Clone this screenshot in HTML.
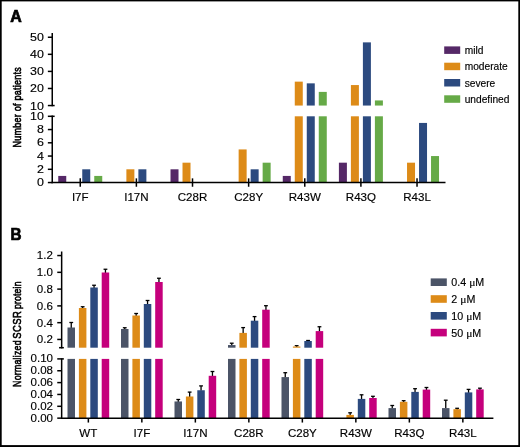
<!DOCTYPE html>
<html><head><meta charset="utf-8"><title>Figure</title>
<style>
html,body{margin:0;padding:0;background:#fff;}
body{width:520px;height:447px;overflow:hidden;}
svg{display:block;will-change:transform;font-family:"Liberation Sans",sans-serif;}
text{fill:#000;stroke:#000;stroke-width:0.15px;}
</style></head><body>
<svg width="520" height="447" viewBox="0 0 520 447">
<rect x="0" y="0" width="520" height="447" fill="#fff"/>
<rect x="58.25" y="175.93" width="8.00" height="6.62" fill="#552867"/>
<rect x="82.25" y="169.30" width="8.00" height="13.25" fill="#2C4A7F"/>
<rect x="94.25" y="175.93" width="8.00" height="6.62" fill="#66AA47"/>
<rect x="126.38" y="169.30" width="8.00" height="13.25" fill="#DD8B18"/>
<rect x="138.38" y="169.30" width="8.00" height="13.25" fill="#2C4A7F"/>
<rect x="170.51" y="169.30" width="8.00" height="13.25" fill="#552867"/>
<rect x="182.51" y="162.68" width="8.00" height="19.88" fill="#DD8B18"/>
<rect x="238.64" y="149.43" width="8.00" height="33.12" fill="#DD8B18"/>
<rect x="250.64" y="169.30" width="8.00" height="13.25" fill="#2C4A7F"/>
<rect x="262.64" y="162.68" width="8.00" height="19.88" fill="#66AA47"/>
<rect x="282.77" y="175.93" width="8.00" height="6.62" fill="#552867"/>
<rect x="294.77" y="116.30" width="8.00" height="66.25" fill="#DD8B18"/>
<rect x="294.77" y="81.64" width="8.00" height="23.91" fill="#DD8B18"/>
<rect x="306.77" y="116.30" width="8.00" height="66.25" fill="#2C4A7F"/>
<rect x="306.77" y="83.35" width="8.00" height="22.20" fill="#2C4A7F"/>
<rect x="318.77" y="116.30" width="8.00" height="66.25" fill="#66AA47"/>
<rect x="318.77" y="91.89" width="8.00" height="13.66" fill="#66AA47"/>
<rect x="338.90" y="162.68" width="8.00" height="19.88" fill="#552867"/>
<rect x="350.90" y="116.30" width="8.00" height="66.25" fill="#DD8B18"/>
<rect x="350.90" y="85.06" width="8.00" height="20.49" fill="#DD8B18"/>
<rect x="362.90" y="116.30" width="8.00" height="66.25" fill="#2C4A7F"/>
<rect x="362.90" y="42.37" width="8.00" height="63.18" fill="#2C4A7F"/>
<rect x="374.90" y="116.30" width="8.00" height="66.25" fill="#66AA47"/>
<rect x="374.90" y="100.43" width="8.00" height="5.12" fill="#66AA47"/>
<rect x="407.03" y="162.68" width="8.00" height="19.88" fill="#DD8B18"/>
<rect x="419.03" y="122.93" width="8.00" height="59.62" fill="#2C4A7F"/>
<rect x="431.03" y="156.05" width="8.00" height="26.50" fill="#66AA47"/>
<line x1="51.55" y1="182.55" x2="445.50" y2="182.55" stroke="#000" stroke-width="1.5"/>
<line x1="52.25" y1="115.60" x2="52.25" y2="183.25" stroke="#000" stroke-width="1.5"/>
<line x1="52.25" y1="33.00" x2="52.25" y2="106.25" stroke="#000" stroke-width="1.5"/>
<line x1="47.85" y1="182.55" x2="52.25" y2="182.55" stroke="#000" stroke-width="1.5"/>
<line x1="47.85" y1="169.30" x2="52.25" y2="169.30" stroke="#000" stroke-width="1.5"/>
<line x1="47.85" y1="156.05" x2="52.25" y2="156.05" stroke="#000" stroke-width="1.5"/>
<line x1="47.85" y1="142.80" x2="52.25" y2="142.80" stroke="#000" stroke-width="1.5"/>
<line x1="47.85" y1="129.55" x2="52.25" y2="129.55" stroke="#000" stroke-width="1.5"/>
<line x1="47.85" y1="116.30" x2="52.25" y2="116.30" stroke="#000" stroke-width="1.5"/>
<line x1="47.85" y1="105.55" x2="52.25" y2="105.55" stroke="#000" stroke-width="1.5"/>
<line x1="47.85" y1="88.47" x2="52.25" y2="88.47" stroke="#000" stroke-width="1.5"/>
<line x1="47.85" y1="71.40" x2="52.25" y2="71.40" stroke="#000" stroke-width="1.5"/>
<line x1="47.85" y1="54.32" x2="52.25" y2="54.32" stroke="#000" stroke-width="1.5"/>
<line x1="47.85" y1="37.25" x2="52.25" y2="37.25" stroke="#000" stroke-width="1.5"/>
<line x1="52.25" y1="116.30" x2="54.65" y2="116.30" stroke="#000" stroke-width="1.5"/>
<line x1="52.25" y1="105.55" x2="54.65" y2="105.55" stroke="#000" stroke-width="1.5"/>
<line x1="80.25" y1="178.35" x2="80.25" y2="186.75" stroke="#000" stroke-width="1.5"/>
<line x1="136.38" y1="178.35" x2="136.38" y2="186.75" stroke="#000" stroke-width="1.5"/>
<line x1="192.51" y1="178.35" x2="192.51" y2="186.75" stroke="#000" stroke-width="1.5"/>
<line x1="248.64" y1="178.35" x2="248.64" y2="186.75" stroke="#000" stroke-width="1.5"/>
<line x1="304.77" y1="178.35" x2="304.77" y2="186.75" stroke="#000" stroke-width="1.5"/>
<line x1="360.90" y1="178.35" x2="360.90" y2="186.75" stroke="#000" stroke-width="1.5"/>
<line x1="417.03" y1="178.35" x2="417.03" y2="186.75" stroke="#000" stroke-width="1.5"/>
<text transform="translate(43.90,186.15) scale(1.12,1)" font-size="11.1" text-anchor="end" >0</text>
<text transform="translate(43.90,172.90) scale(1.12,1)" font-size="11.1" text-anchor="end" >2</text>
<text transform="translate(43.90,159.65) scale(1.12,1)" font-size="11.1" text-anchor="end" >4</text>
<text transform="translate(43.90,146.40) scale(1.12,1)" font-size="11.1" text-anchor="end" >6</text>
<text transform="translate(43.90,133.15) scale(1.12,1)" font-size="11.1" text-anchor="end" >8</text>
<text transform="translate(43.90,119.90) scale(1.12,1)" font-size="11.1" text-anchor="end" >10</text>
<text transform="translate(43.90,109.50) scale(1.12,1)" font-size="11.1" text-anchor="end" >10</text>
<text transform="translate(43.90,92.42) scale(1.12,1)" font-size="11.1" text-anchor="end" >20</text>
<text transform="translate(43.90,75.35) scale(1.12,1)" font-size="11.1" text-anchor="end" >30</text>
<text transform="translate(43.90,58.27) scale(1.12,1)" font-size="11.1" text-anchor="end" >40</text>
<text transform="translate(43.90,41.20) scale(1.12,1)" font-size="11.1" text-anchor="end" >50</text>
<text transform="translate(80.25,201.20) scale(1.07,1)" font-size="10.8" text-anchor="middle" >I7F</text>
<text transform="translate(136.38,201.20) scale(1.07,1)" font-size="10.8" text-anchor="middle" >I17N</text>
<text transform="translate(192.51,201.20) scale(1.07,1)" font-size="10.8" text-anchor="middle" >C28R</text>
<text transform="translate(248.64,201.20) scale(1.07,1)" font-size="10.8" text-anchor="middle" >C28Y</text>
<text transform="translate(304.77,201.20) scale(1.07,1)" font-size="10.8" text-anchor="middle" >R43W</text>
<text transform="translate(360.90,201.20) scale(1.07,1)" font-size="10.8" text-anchor="middle" >R43Q</text>
<text transform="translate(417.03,201.20) scale(1.07,1)" font-size="10.8" text-anchor="middle" >R43L</text>
<rect x="444.20" y="46.40" width="16.00" height="7.50" fill="#552867"/>
<text transform="translate(464.70,54.00) scale(1.0,1)" font-size="10.2" text-anchor="start" >mild</text>
<rect x="444.20" y="62.70" width="16.00" height="7.50" fill="#DD8B18"/>
<text transform="translate(464.70,70.30) scale(1.0,1)" font-size="10.2" text-anchor="start" >moderate</text>
<rect x="444.20" y="79.00" width="16.00" height="7.50" fill="#2C4A7F"/>
<text transform="translate(464.70,86.60) scale(1.0,1)" font-size="10.2" text-anchor="start" >severe</text>
<rect x="444.20" y="95.30" width="16.00" height="7.50" fill="#66AA47"/>
<text transform="translate(464.70,102.90) scale(1.0,1)" font-size="10.2" text-anchor="start" >undefined</text>
<line x1="71.25" y1="322.50" x2="71.25" y2="328.00" stroke="#000" stroke-width="1.3"/>
<line x1="69.35" y1="322.50" x2="73.15" y2="322.50" stroke="#000" stroke-width="1.3"/>
<rect x="67.50" y="358.90" width="7.50" height="59.25" fill="#4B5467"/>
<rect x="67.50" y="327.50" width="7.50" height="20.20" fill="#4B5467"/>
<line x1="82.65" y1="306.75" x2="82.65" y2="308.50" stroke="#000" stroke-width="1.3"/>
<line x1="80.75" y1="306.75" x2="84.55" y2="306.75" stroke="#000" stroke-width="1.3"/>
<rect x="78.90" y="358.90" width="7.50" height="59.25" fill="#DD8B18"/>
<rect x="78.90" y="308.00" width="7.50" height="39.70" fill="#DD8B18"/>
<line x1="94.05" y1="285.25" x2="94.05" y2="288.00" stroke="#000" stroke-width="1.3"/>
<line x1="92.15" y1="285.25" x2="95.95" y2="285.25" stroke="#000" stroke-width="1.3"/>
<rect x="90.30" y="358.90" width="7.50" height="59.25" fill="#2C4A7F"/>
<rect x="90.30" y="287.50" width="7.50" height="60.20" fill="#2C4A7F"/>
<line x1="105.45" y1="269.25" x2="105.45" y2="273.00" stroke="#000" stroke-width="1.3"/>
<line x1="103.55" y1="269.25" x2="107.35" y2="269.25" stroke="#000" stroke-width="1.3"/>
<rect x="101.70" y="358.90" width="7.50" height="59.25" fill="#C5007C"/>
<rect x="101.70" y="272.50" width="7.50" height="75.20" fill="#C5007C"/>
<line x1="124.75" y1="327.75" x2="124.75" y2="329.50" stroke="#000" stroke-width="1.3"/>
<line x1="122.85" y1="327.75" x2="126.65" y2="327.75" stroke="#000" stroke-width="1.3"/>
<rect x="121.00" y="358.90" width="7.50" height="59.25" fill="#4B5467"/>
<rect x="121.00" y="329.00" width="7.50" height="18.70" fill="#4B5467"/>
<line x1="136.15" y1="313.50" x2="136.15" y2="316.00" stroke="#000" stroke-width="1.3"/>
<line x1="134.25" y1="313.50" x2="138.05" y2="313.50" stroke="#000" stroke-width="1.3"/>
<rect x="132.40" y="358.90" width="7.50" height="59.25" fill="#DD8B18"/>
<rect x="132.40" y="315.50" width="7.50" height="32.20" fill="#DD8B18"/>
<line x1="147.55" y1="300.50" x2="147.55" y2="304.50" stroke="#000" stroke-width="1.3"/>
<line x1="145.65" y1="300.50" x2="149.45" y2="300.50" stroke="#000" stroke-width="1.3"/>
<rect x="143.80" y="358.90" width="7.50" height="59.25" fill="#2C4A7F"/>
<rect x="143.80" y="304.00" width="7.50" height="43.70" fill="#2C4A7F"/>
<line x1="158.95" y1="278.25" x2="158.95" y2="282.50" stroke="#000" stroke-width="1.3"/>
<line x1="157.05" y1="278.25" x2="160.85" y2="278.25" stroke="#000" stroke-width="1.3"/>
<rect x="155.20" y="358.90" width="7.50" height="59.25" fill="#C5007C"/>
<rect x="155.20" y="282.00" width="7.50" height="65.70" fill="#C5007C"/>
<line x1="178.25" y1="399.50" x2="178.25" y2="401.95" stroke="#000" stroke-width="1.3"/>
<line x1="176.35" y1="399.50" x2="180.15" y2="399.50" stroke="#000" stroke-width="1.3"/>
<rect x="174.50" y="401.45" width="7.50" height="16.70" fill="#4B5467"/>
<line x1="189.65" y1="392.10" x2="189.65" y2="397.00" stroke="#000" stroke-width="1.3"/>
<line x1="187.75" y1="392.10" x2="191.55" y2="392.10" stroke="#000" stroke-width="1.3"/>
<rect x="185.90" y="396.50" width="7.50" height="21.65" fill="#DD8B18"/>
<line x1="201.05" y1="385.90" x2="201.05" y2="390.75" stroke="#000" stroke-width="1.3"/>
<line x1="199.15" y1="385.90" x2="202.95" y2="385.90" stroke="#000" stroke-width="1.3"/>
<rect x="197.30" y="390.25" width="7.50" height="27.90" fill="#2C4A7F"/>
<line x1="212.45" y1="371.50" x2="212.45" y2="376.30" stroke="#000" stroke-width="1.3"/>
<line x1="210.55" y1="371.50" x2="214.35" y2="371.50" stroke="#000" stroke-width="1.3"/>
<rect x="208.70" y="375.80" width="7.50" height="42.35" fill="#C5007C"/>
<line x1="231.75" y1="343.20" x2="231.75" y2="345.55" stroke="#000" stroke-width="1.3"/>
<line x1="229.85" y1="343.20" x2="233.65" y2="343.20" stroke="#000" stroke-width="1.3"/>
<rect x="228.00" y="358.90" width="7.50" height="59.25" fill="#4B5467"/>
<rect x="228.00" y="345.05" width="7.50" height="2.65" fill="#4B5467"/>
<line x1="243.15" y1="327.60" x2="243.15" y2="333.40" stroke="#000" stroke-width="1.3"/>
<line x1="241.25" y1="327.60" x2="245.05" y2="327.60" stroke="#000" stroke-width="1.3"/>
<rect x="239.40" y="358.90" width="7.50" height="59.25" fill="#DD8B18"/>
<rect x="239.40" y="332.90" width="7.50" height="14.80" fill="#DD8B18"/>
<line x1="254.55" y1="316.60" x2="254.55" y2="321.20" stroke="#000" stroke-width="1.3"/>
<line x1="252.65" y1="316.60" x2="256.45" y2="316.60" stroke="#000" stroke-width="1.3"/>
<rect x="250.80" y="358.90" width="7.50" height="59.25" fill="#2C4A7F"/>
<rect x="250.80" y="320.70" width="7.50" height="27.00" fill="#2C4A7F"/>
<line x1="265.95" y1="305.70" x2="265.95" y2="310.20" stroke="#000" stroke-width="1.3"/>
<line x1="264.05" y1="305.70" x2="267.85" y2="305.70" stroke="#000" stroke-width="1.3"/>
<rect x="262.20" y="358.90" width="7.50" height="59.25" fill="#C5007C"/>
<rect x="262.20" y="309.70" width="7.50" height="38.00" fill="#C5007C"/>
<line x1="285.25" y1="372.70" x2="285.25" y2="377.60" stroke="#000" stroke-width="1.3"/>
<line x1="283.35" y1="372.70" x2="287.15" y2="372.70" stroke="#000" stroke-width="1.3"/>
<rect x="281.50" y="377.10" width="7.50" height="41.05" fill="#4B5467"/>
<line x1="296.65" y1="345.70" x2="296.65" y2="347.00" stroke="#000" stroke-width="1.3"/>
<line x1="294.75" y1="345.70" x2="298.55" y2="345.70" stroke="#000" stroke-width="1.3"/>
<rect x="292.90" y="358.90" width="7.50" height="59.25" fill="#DD8B18"/>
<rect x="292.90" y="346.50" width="7.50" height="1.20" fill="#DD8B18"/>
<line x1="308.05" y1="340.50" x2="308.05" y2="341.50" stroke="#000" stroke-width="1.3"/>
<line x1="306.15" y1="340.50" x2="309.95" y2="340.50" stroke="#000" stroke-width="1.3"/>
<rect x="304.30" y="358.90" width="7.50" height="59.25" fill="#2C4A7F"/>
<rect x="304.30" y="341.00" width="7.50" height="6.70" fill="#2C4A7F"/>
<line x1="319.45" y1="326.75" x2="319.45" y2="331.60" stroke="#000" stroke-width="1.3"/>
<line x1="317.55" y1="326.75" x2="321.35" y2="326.75" stroke="#000" stroke-width="1.3"/>
<rect x="315.70" y="358.90" width="7.50" height="59.25" fill="#C5007C"/>
<rect x="315.70" y="331.10" width="7.50" height="16.60" fill="#C5007C"/>
<line x1="350.15" y1="412.80" x2="350.15" y2="415.40" stroke="#000" stroke-width="1.3"/>
<line x1="348.25" y1="412.80" x2="352.05" y2="412.80" stroke="#000" stroke-width="1.3"/>
<rect x="346.40" y="414.90" width="7.50" height="3.25" fill="#DD8B18"/>
<line x1="361.55" y1="394.80" x2="361.55" y2="399.40" stroke="#000" stroke-width="1.3"/>
<line x1="359.65" y1="394.80" x2="363.45" y2="394.80" stroke="#000" stroke-width="1.3"/>
<rect x="357.80" y="398.90" width="7.50" height="19.25" fill="#2C4A7F"/>
<line x1="372.95" y1="396.30" x2="372.95" y2="398.50" stroke="#000" stroke-width="1.3"/>
<line x1="371.05" y1="396.30" x2="374.85" y2="396.30" stroke="#000" stroke-width="1.3"/>
<rect x="369.20" y="398.00" width="7.50" height="20.15" fill="#C5007C"/>
<line x1="392.25" y1="405.50" x2="392.25" y2="408.60" stroke="#000" stroke-width="1.3"/>
<line x1="390.35" y1="405.50" x2="394.15" y2="405.50" stroke="#000" stroke-width="1.3"/>
<rect x="388.50" y="408.10" width="7.50" height="10.05" fill="#4B5467"/>
<line x1="403.65" y1="400.70" x2="403.65" y2="402.30" stroke="#000" stroke-width="1.3"/>
<line x1="401.75" y1="400.70" x2="405.55" y2="400.70" stroke="#000" stroke-width="1.3"/>
<rect x="399.90" y="401.80" width="7.50" height="16.35" fill="#DD8B18"/>
<line x1="415.05" y1="388.70" x2="415.05" y2="392.40" stroke="#000" stroke-width="1.3"/>
<line x1="413.15" y1="388.70" x2="416.95" y2="388.70" stroke="#000" stroke-width="1.3"/>
<rect x="411.30" y="391.90" width="7.50" height="26.25" fill="#2C4A7F"/>
<line x1="426.45" y1="387.50" x2="426.45" y2="390.10" stroke="#000" stroke-width="1.3"/>
<line x1="424.55" y1="387.50" x2="428.35" y2="387.50" stroke="#000" stroke-width="1.3"/>
<rect x="422.70" y="389.60" width="7.50" height="28.55" fill="#C5007C"/>
<line x1="445.75" y1="400.20" x2="445.75" y2="408.60" stroke="#000" stroke-width="1.3"/>
<line x1="443.85" y1="400.20" x2="447.65" y2="400.20" stroke="#000" stroke-width="1.3"/>
<rect x="442.00" y="408.10" width="7.50" height="10.05" fill="#4B5467"/>
<line x1="457.15" y1="408.30" x2="457.15" y2="409.70" stroke="#000" stroke-width="1.3"/>
<line x1="455.25" y1="408.30" x2="459.05" y2="408.30" stroke="#000" stroke-width="1.3"/>
<rect x="453.40" y="409.20" width="7.50" height="8.95" fill="#DD8B18"/>
<line x1="468.55" y1="389.40" x2="468.55" y2="392.90" stroke="#000" stroke-width="1.3"/>
<line x1="466.65" y1="389.40" x2="470.45" y2="389.40" stroke="#000" stroke-width="1.3"/>
<rect x="464.80" y="392.40" width="7.50" height="25.75" fill="#2C4A7F"/>
<line x1="479.95" y1="388.20" x2="479.95" y2="389.90" stroke="#000" stroke-width="1.3"/>
<line x1="478.05" y1="388.20" x2="481.85" y2="388.20" stroke="#000" stroke-width="1.3"/>
<rect x="476.20" y="389.40" width="7.50" height="28.75" fill="#C5007C"/>
<line x1="60.95" y1="418.15" x2="493.40" y2="418.15" stroke="#000" stroke-width="1.5"/>
<line x1="61.65" y1="358.20" x2="61.65" y2="418.85" stroke="#000" stroke-width="1.5"/>
<line x1="61.65" y1="251.50" x2="61.65" y2="348.40" stroke="#000" stroke-width="1.5"/>
<line x1="59.05" y1="347.70" x2="63.85" y2="347.70" stroke="#000" stroke-width="1.5"/>
<line x1="61.65" y1="358.90" x2="63.85" y2="358.90" stroke="#000" stroke-width="1.5"/>
<line x1="57.25" y1="418.15" x2="61.65" y2="418.15" stroke="#000" stroke-width="1.5"/>
<line x1="57.25" y1="406.30" x2="61.65" y2="406.30" stroke="#000" stroke-width="1.5"/>
<line x1="57.25" y1="394.45" x2="61.65" y2="394.45" stroke="#000" stroke-width="1.5"/>
<line x1="57.25" y1="382.60" x2="61.65" y2="382.60" stroke="#000" stroke-width="1.5"/>
<line x1="57.25" y1="370.75" x2="61.65" y2="370.75" stroke="#000" stroke-width="1.5"/>
<line x1="57.25" y1="358.90" x2="61.65" y2="358.90" stroke="#000" stroke-width="1.5"/>
<line x1="57.25" y1="339.45" x2="61.65" y2="339.45" stroke="#000" stroke-width="1.5"/>
<line x1="57.25" y1="322.67" x2="61.65" y2="322.67" stroke="#000" stroke-width="1.5"/>
<line x1="57.25" y1="305.89" x2="61.65" y2="305.89" stroke="#000" stroke-width="1.5"/>
<line x1="57.25" y1="289.11" x2="61.65" y2="289.11" stroke="#000" stroke-width="1.5"/>
<line x1="57.25" y1="272.33" x2="61.65" y2="272.33" stroke="#000" stroke-width="1.5"/>
<line x1="57.25" y1="255.55" x2="61.65" y2="255.55" stroke="#000" stroke-width="1.5"/>
<line x1="88.35" y1="418.15" x2="88.35" y2="422.55" stroke="#000" stroke-width="1.5"/>
<text transform="translate(88.35,436.80) scale(1.07,1)" font-size="10.8" text-anchor="middle" >WT</text>
<line x1="141.85" y1="418.15" x2="141.85" y2="422.55" stroke="#000" stroke-width="1.5"/>
<text transform="translate(141.85,436.80) scale(1.07,1)" font-size="10.8" text-anchor="middle" >I7F</text>
<line x1="195.35" y1="418.15" x2="195.35" y2="422.55" stroke="#000" stroke-width="1.5"/>
<text transform="translate(195.35,436.80) scale(1.07,1)" font-size="10.8" text-anchor="middle" >I17N</text>
<line x1="248.85" y1="418.15" x2="248.85" y2="422.55" stroke="#000" stroke-width="1.5"/>
<text transform="translate(248.85,436.80) scale(1.07,1)" font-size="10.8" text-anchor="middle" >C28R</text>
<line x1="302.35" y1="418.15" x2="302.35" y2="422.55" stroke="#000" stroke-width="1.5"/>
<text transform="translate(302.35,436.80) scale(1.07,1)" font-size="10.8" text-anchor="middle" >C28Y</text>
<line x1="355.85" y1="418.15" x2="355.85" y2="422.55" stroke="#000" stroke-width="1.5"/>
<text transform="translate(355.85,436.80) scale(1.07,1)" font-size="10.8" text-anchor="middle" >R43W</text>
<line x1="409.35" y1="418.15" x2="409.35" y2="422.55" stroke="#000" stroke-width="1.5"/>
<text transform="translate(409.35,436.80) scale(1.07,1)" font-size="10.8" text-anchor="middle" >R43Q</text>
<line x1="462.85" y1="418.15" x2="462.85" y2="422.55" stroke="#000" stroke-width="1.5"/>
<text transform="translate(462.85,436.80) scale(1.07,1)" font-size="10.8" text-anchor="middle" >R43L</text>
<text transform="translate(53.00,421.70) scale(1.04,1)" font-size="11.1" text-anchor="end" >0.00</text>
<text transform="translate(53.00,409.85) scale(1.04,1)" font-size="11.1" text-anchor="end" >0.02</text>
<text transform="translate(53.00,398.00) scale(1.04,1)" font-size="11.1" text-anchor="end" >0.04</text>
<text transform="translate(53.00,386.15) scale(1.04,1)" font-size="11.1" text-anchor="end" >0.06</text>
<text transform="translate(53.00,374.30) scale(1.04,1)" font-size="11.1" text-anchor="end" >0.08</text>
<text transform="translate(53.00,362.45) scale(1.04,1)" font-size="11.1" text-anchor="end" >0.10</text>
<text transform="translate(52.80,343.35) scale(1.04,1)" font-size="11.1" text-anchor="end" >0.2</text>
<text transform="translate(52.80,326.57) scale(1.04,1)" font-size="11.1" text-anchor="end" >0.4</text>
<text transform="translate(52.80,309.79) scale(1.04,1)" font-size="11.1" text-anchor="end" >0.6</text>
<text transform="translate(52.80,293.01) scale(1.04,1)" font-size="11.1" text-anchor="end" >0.8</text>
<text transform="translate(52.80,276.23) scale(1.04,1)" font-size="11.1" text-anchor="end" >1.0</text>
<text transform="translate(52.80,259.45) scale(1.04,1)" font-size="11.1" text-anchor="end" >1.2</text>
<rect x="430.70" y="278.40" width="16.10" height="7.60" fill="#4B5467"/>
<text transform="translate(451.3,286.10) scale(1.05,1)" font-size="10.2" text-anchor="start">0.4 <tspan font-family="Liberation Serif, serif" font-size="11">μ</tspan>M</text>
<rect x="430.70" y="295.20" width="16.10" height="7.60" fill="#DD8B18"/>
<text transform="translate(451.3,302.90) scale(1.05,1)" font-size="10.2" text-anchor="start">2 <tspan font-family="Liberation Serif, serif" font-size="11">μ</tspan>M</text>
<rect x="430.70" y="312.00" width="16.10" height="7.60" fill="#2C4A7F"/>
<text transform="translate(451.3,319.70) scale(1.05,1)" font-size="10.2" text-anchor="start">10 <tspan font-family="Liberation Serif, serif" font-size="11">μ</tspan>M</text>
<rect x="430.70" y="328.80" width="16.10" height="7.60" fill="#C5007C"/>
<text transform="translate(451.3,336.50) scale(1.05,1)" font-size="10.2" text-anchor="start">50 <tspan font-family="Liberation Serif, serif" font-size="11">μ</tspan>M</text>
<text transform="translate(21.4,147.6) rotate(-90) scale(0.768,1)" font-size="11.8" letter-spacing="0.3" style="stroke-width:0.62px">Number of patients</text>
<text transform="translate(21.2,386.90) rotate(-90) scale(0.745,1)" font-size="11.8" letter-spacing="0.3" style="stroke-width:0.62px">Normalized</text>
<text transform="translate(21.2,338.80) rotate(-90) scale(0.8,1)" font-size="11.8" letter-spacing="0.6" style="stroke-width:0.62px">SCSR</text>
<text transform="translate(21.2,309.10) rotate(-90) scale(0.73,1)" font-size="11.8" letter-spacing="0.3" style="stroke-width:0.62px">protein</text>
<text transform="translate(10.2,21.6) scale(1.02,1)" font-size="15.6" font-weight="bold" style="stroke-width:0.7px;stroke-linejoin:miter">A</text>
<text transform="translate(10.6,240.1) scale(0.98,1)" font-size="15.6" font-weight="bold" style="stroke-width:0.7px;stroke-linejoin:miter">B</text>
<rect x="0" y="0" width="520" height="1.4" fill="#000"/>
<rect x="0" y="0" width="1.7" height="447" fill="#000"/>
<rect x="518.3" y="0" width="1.7" height="447" fill="#000"/>
<rect x="0" y="445.1" width="520" height="1.9" fill="#000"/>
</svg>
</body></html>
